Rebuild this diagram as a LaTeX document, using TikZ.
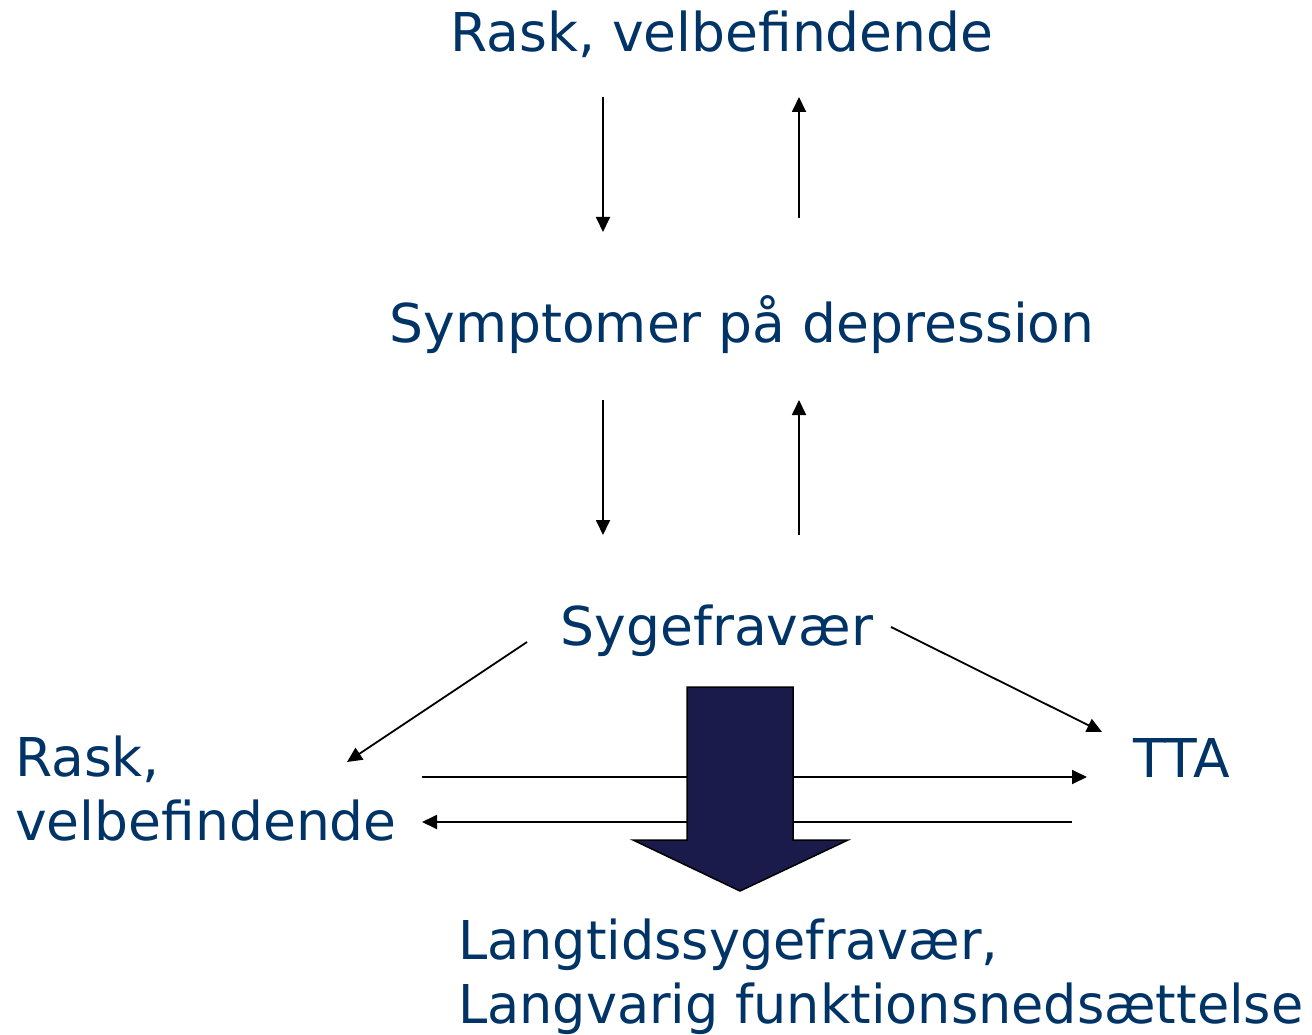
\documentclass[tikz,border=0pt]{standalone}
\usepackage{fontspec}
\setmainfont{DejaVu Sans}
\usetikzlibrary{arrows.meta}
\definecolor{txtblue}{RGB}{0,51,102}
\definecolor{blockblue}{RGB}{27,27,75}
\begin{document}
\begin{tikzpicture}[x = 1pt, y = -1pt]
\tikzstyle{LabelStyle}=[text = txtblue,
                        inner sep = 0pt,
                        font = \fontsize{53.5}{63.5}\selectfont]
\tikzstyle{ArrowStyle}=[draw, line width = 1.8pt,
                        -{Triangle[length = 15pt, width = 14pt]}]
\useasboundingbox (0,0) rectangle (1312,1035);
\node[LabelStyle, anchor = base] (rask) at (722,52) {Rask, velbefindende};
\node[LabelStyle, anchor = base] (symp) at (742,342) {Symptomer på depression};
\node[LabelStyle, anchor = base] (syge) at (717,645) {Sygefravær};
\node[LabelStyle, anchor = base west, align = left] (raskl) at (15,840) {Rask,\\velbefindende};
\node[LabelStyle, anchor = base west] (tta) at (1133,777) {TTA};
\node[LabelStyle, anchor = base west, align = left] (lang) at (458,1023)
  {\scalebox{0.98}[1]{Langtidssygefravær,}\\\scalebox{0.98}[1]{Langvarig funktionsnedsættelse}};
\coordinate (a1) at (603,97);   \coordinate (a2) at (603,232);
\coordinate (b1) at (799,218);  \coordinate (b2) at (799,97);
\coordinate (c1) at (603,400);  \coordinate (c2) at (603,535);
\coordinate (d1) at (799,535);  \coordinate (d2) at (799,400);
\coordinate (e1) at (527,642);  \coordinate (e2) at (347,762);
\coordinate (f1) at (891,627);  \coordinate (f2) at (1102,732);
\coordinate (g1) at (422,777);  \coordinate (g2) at (1087,777);
\coordinate (h1) at (1072,822); \coordinate (h2) at (422,822);
\draw[ArrowStyle] (a1) -- (a2);
\draw[ArrowStyle] (b1) -- (b2);
\draw[ArrowStyle] (c1) -- (c2);
\draw[ArrowStyle] (d1) -- (d2);
\draw[ArrowStyle] (e1) -- (e2);
\draw[ArrowStyle] (f1) -- (f2);
\draw[ArrowStyle] (g1) -- (g2);
\draw[ArrowStyle] (h1) -- (h2);
\draw[fill = blockblue, line width = 1.5pt, line join = miter]
  (687,687) -- (793,687) -- (793,840) -- (848,840) -- (740,891)
  -- (633,840) -- (687,840) -- cycle;
\end{tikzpicture}
\end{document}
